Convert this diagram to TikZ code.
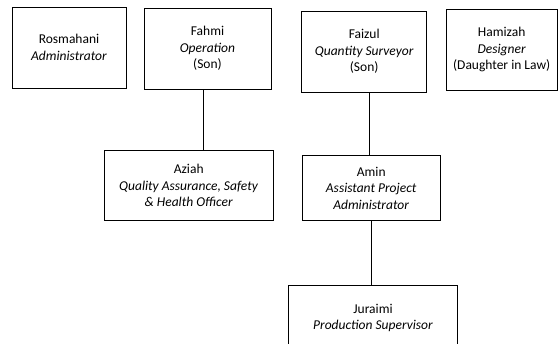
\documentclass[tikz,border=0pt]{standalone}
\usepackage{fontspec}
\setmainfont{Carlito}
\begin{document}
\begin{tikzpicture}[x=1pt, y=-1pt, line width=0.7pt,
    staff/.style = {draw, align=center, inner sep=0pt, font=\fontsize{13.5}{16.5}\selectfont}]
    \clip (0,0) rectangle (559,344);
    \node[staff, minimum width=114pt, minimum height=81pt] (rosmahani) at (69,47.5) {Rosmahani\\\textit{Administrator}};
    \node[staff, minimum width=127pt, minimum height=81pt] (fahmi) at (207.5,48.5) {Fahmi\\\textit{Operation}\\(Son)};
    \node[staff, minimum width=125pt, minimum height=81pt] (faizul) at (364.2,51.5) {Faizul\\\textit{Quantity Surveyor}\\(Son)};
    \node[staff, minimum width=111pt, minimum height=81pt] (hamizah) at (501.7,49.5) {Hamizah\\\textit{Designer}\\(Daughter in Law)};
    \node[staff, minimum width=169pt, minimum height=70pt] (aziah) at (188.7,185.5) {Aziah\\\textit{Quality Assurance, Safety}\\\textit{\& Health Officer}};
    \node[staff, minimum width=138pt, minimum height=65pt] (amin) at (371.2,188.3) {Amin\\\textit{Assistant Project}\\\textit{Administrator}};
    \node[staff, minimum width=169pt, minimum height=65pt] (juraimi) at (373,318) {Juraimi\\\textit{Production Supervisor}};
    \draw ([xshift=-4pt]fahmi.south) -- ([xshift=-4pt]fahmi.south |- aziah.north);
    \draw ([xshift=5pt]faizul.south) -- ([xshift=5pt]faizul.south |- amin.north);
    \draw (amin.south) -- (amin.south |- juraimi.north);
\end{tikzpicture}
\end{document}
